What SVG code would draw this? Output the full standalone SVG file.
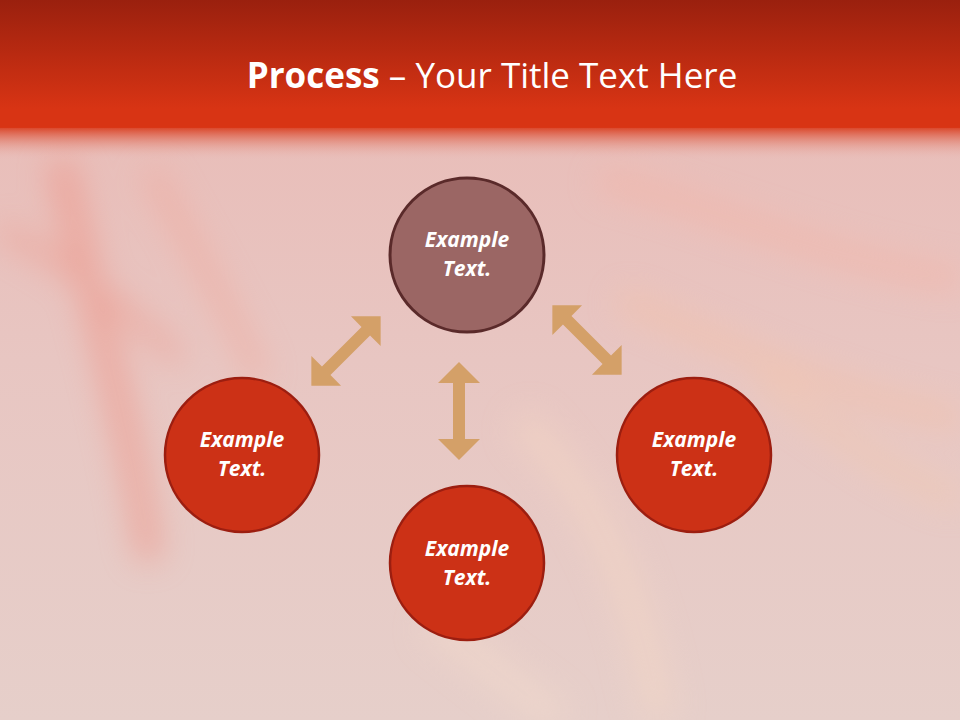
<svg xmlns="http://www.w3.org/2000/svg" width="960" height="720" viewBox="0 0 960 720">
<defs>
<linearGradient id="bg" x1="0" y1="0" x2="0" y2="1">
<stop offset="0" stop-color="#e9b9b4"/>
<stop offset="0.5" stop-color="#e8c6c2"/>
<stop offset="1" stop-color="#e6cfca"/>
</linearGradient>
<linearGradient id="bar" x1="0" y1="0" x2="0" y2="1">
<stop offset="0" stop-color="#9a200e"/>
<stop offset="0.85" stop-color="#d83414"/>
<stop offset="1" stop-color="#d83414"/>
</linearGradient>
<linearGradient id="fade" x1="0" y1="0" x2="0" y2="1">
<stop offset="0" stop-color="#d83414" stop-opacity="0.9"/>
<stop offset="1" stop-color="#e9b0a8" stop-opacity="0"/>
</linearGradient>
<filter id="blur" x="-50%" y="-50%" width="200%" height="200%"><feGaussianBlur stdDeviation="16"/></filter>
<path id="arr" d="M0,-49 L21,-28 L6,-28 L6,28 L21,28 L0,49 L-21,28 L-6,28 L-6,-28 L-21,-28 Z"/>
</defs>
<style>
.n1{fill:#9b6664;stroke:#5a2a2a;stroke-width:3}
.n2{fill:#cc3116;stroke:#9c1e10;stroke-width:2.5}
.lbl{font-family:"Open Sans","Liberation Sans",sans-serif;font-weight:bold;font-style:italic;font-size:21px;fill:#ffffff;text-anchor:middle}
.arrow{fill:#d4a068}
</style>
<rect width="960" height="720" fill="url(#bg)"/>
<g filter="url(#blur)" opacity="0.5">
<path d="M60,160 C90,300 130,420 150,560" stroke="#f08878" stroke-width="26" fill="none"/>
<path d="M150,170 C200,260 240,330 260,380" stroke="#f4a090" stroke-width="18" fill="none"/>
<path d="M600,180 C700,200 820,260 960,280" stroke="#f8b0a0" stroke-width="22" fill="none"/>
<path d="M620,300 C720,340 820,390 960,420" stroke="#f8c0a0" stroke-width="20" fill="none"/>
<path d="M520,420 C600,500 640,600 660,720" stroke="#f6d8c4" stroke-width="30" fill="none"/>
<path d="M430,620 C480,660 520,690 560,720" stroke="#f4dccc" stroke-width="30" fill="none"/>
<path d="M0,230 C60,260 120,300 180,360" stroke="#f09080" stroke-width="16" fill="none"/>
<path d="M760,380 C820,420 880,470 960,500" stroke="#f6c8a8" stroke-width="18" fill="none"/>
</g>
<rect x="0" y="0" width="960" height="128" fill="url(#bar)"/>
<rect x="0" y="127" width="960" height="32" fill="url(#fade)"/>
<text x="492" y="88" text-anchor="middle" font-family="Open Sans,Liberation Sans,sans-serif" font-size="35" fill="#ffffff"><tspan font-weight="bold">Process</tspan> – Your Title Text Here</text>
<g id="connectors">
<use href="#arr" class="arrow" transform="translate(346,351) rotate(45)"/>
<use href="#arr" class="arrow" transform="translate(459,411)"/>
<use href="#arr" class="arrow" transform="translate(587,340) rotate(-45)"/>
</g>
<g id="node-top"><circle class="n1" cx="467" cy="255" r="77"/><text class="lbl" x="467" y="247">Example</text><text class="lbl" x="467" y="276">Text.</text></g>
<g id="node-left"><circle class="n2" cx="242" cy="455" r="77"/><text class="lbl" x="242" y="447">Example</text><text class="lbl" x="242" y="476">Text.</text></g>
<g id="node-bottom"><circle class="n2" cx="467" cy="563" r="77"/><text class="lbl" x="467" y="556">Example</text><text class="lbl" x="467" y="585">Text.</text></g>
<g id="node-right"><circle class="n2" cx="694" cy="455" r="77"/><text class="lbl" x="694" y="447">Example</text><text class="lbl" x="694" y="476">Text.</text></g>
</svg>
